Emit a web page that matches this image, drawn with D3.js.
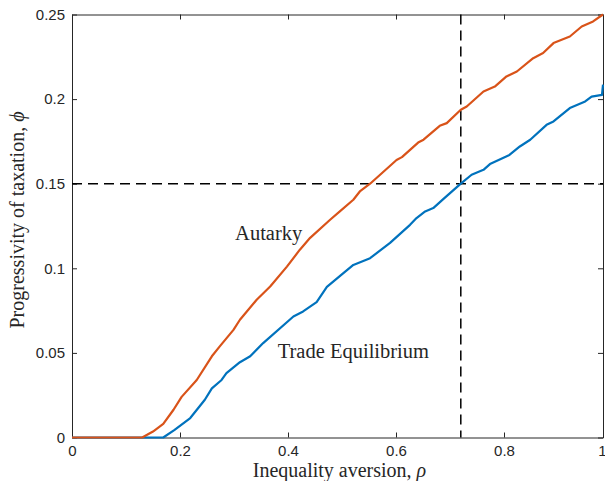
<!DOCTYPE html>
<html>
<head>
<meta charset="utf-8">
<script src="https://cdn.jsdelivr.net/npm/d3@7"></script>
<style>
  html, body { margin: 0; padding: 0; background: #fff; }
  svg { display: block; }
</style>
</head>
<body>
<svg id="chart" width="605" height="481"></svg>
<script>
// ---- data ----
const rhoAutarky = [0, 0.13, 0.15, 0.169, 0.188, 0.203, 0.231, 0.259, 0.274, 0.299, 0.311, 0.342, 0.367, 0.398, 0.422, 0.441, 0.478, 0.496, 0.521, 0.533, 0.552, 0.601, 0.611, 0.641, 0.651, 0.681, 0.694, 0.72, 0.731, 0.762, 0.783, 0.805, 0.826, 0.859, 0.879, 0.9, 0.933, 0.957, 0.98, 1.0];
const phiAutarky = [0, 0, 0.0035, 0.008, 0.0164, 0.024, 0.034, 0.048, 0.054, 0.0636, 0.0696, 0.0814, 0.0892, 0.101, 0.111, 0.118, 0.1287, 0.1336, 0.1405, 0.1454, 0.15, 0.164, 0.1657, 0.1743, 0.176, 0.1842, 0.1858, 0.1937, 0.1956, 0.2045, 0.2074, 0.2134, 0.2163, 0.2242, 0.2272, 0.2331, 0.237, 0.2429, 0.2459, 0.25];
const rhoTrade = [0, 0.169, 0.19, 0.219, 0.246, 0.259, 0.277, 0.286, 0.311, 0.33, 0.354, 0.41, 0.428, 0.453, 0.472, 0.502, 0.521, 0.552, 0.589, 0.626, 0.638, 0.654, 0.669, 0.688, 0.72, 0.74, 0.762, 0.774, 0.811, 0.832, 0.853, 0.886, 0.9, 0.933, 0.964, 0.977, 0.998, 1.0];
const phiTrade = [0, 0, 0.0045, 0.0115, 0.0223, 0.029, 0.034, 0.038, 0.0445, 0.048, 0.0558, 0.0715, 0.0745, 0.080, 0.089, 0.097, 0.102, 0.106, 0.115, 0.1257, 0.1297, 0.1336, 0.1356, 0.141, 0.15, 0.1553, 0.1582, 0.1616, 0.167, 0.172, 0.176, 0.1848, 0.1868, 0.1947, 0.1986, 0.2015, 0.2025, 0.2085];
const xTicks = [0, 0.2, 0.4, 0.6, 0.8, 1];
const yTicks = [0, 0.05, 0.1, 0.15, 0.2, 0.25];
const xTickLabels = ["0", "0.2", "0.4", "0.6", "0.8", "1"];
const yTickLabels = ["0", "0.05", "0.1", "0.15", "0.2", "0.25"];
const refRho = 0.72;
const refPhi = 0.15;
const annotations = [
  { text: "Autarky", rho: 0.302, phi: 0.1167 },
  { text: "Trade Equilibrium", rho: 0.381, phi: 0.047 }
];

// ---- scales ----
const svg = d3.select("#chart");
const x = d3.scaleLinear().domain([0, 0.8, 1]).range([72, 504, 603]);
const y = d3.scaleLinear().domain([0, 0.25]).range([437.5, 14.5]);
const axisColor = "#262626";
const tickFont = "'Liberation Sans', Arial, Helvetica, sans-serif";
const serif = "'Liberation Serif', 'Times New Roman', serif";

// ---- axes ----
function styleAxis(g) {
  g.select(".domain").attr("stroke", axisColor).attr("stroke-width", 1);
  g.selectAll(".tick line").attr("stroke", axisColor).attr("stroke-width", 1);
  g.selectAll(".tick text").attr("fill", axisColor).style("font-family", tickFont).style("font-size", "15px");
}
const bottomAxis = svg.append("g").attr("transform", `translate(0,${y(0)})`)
  .call(d3.axisBottom(x).tickValues(xTicks).tickFormat((d, i) => xTickLabels[i]).tickSizeInner(-5).tickSizeOuter(0).tickPadding(8))
  .call(styleAxis);
// keep the last label inside the picture
bottomAxis.selectAll(".tick text").filter(d => d === 1).attr("text-anchor", "end").attr("dx", "3");
svg.append("g").attr("transform", `translate(0,${y(0.25)})`)
  .call(d3.axisTop(x).tickValues(xTicks).tickFormat("").tickSizeInner(-5).tickSizeOuter(0))
  .call(styleAxis);
svg.append("g").attr("transform", `translate(${x(0)},0)`)
  .call(d3.axisLeft(y).tickValues(yTicks).tickFormat((d, i) => yTickLabels[i]).tickSizeInner(-5).tickSizeOuter(0).tickPadding(7))
  .call(styleAxis);
svg.append("g").attr("transform", `translate(${x(1)},0)`)
  .call(d3.axisRight(y).tickValues(yTicks).tickFormat("").tickSizeInner(-5).tickSizeOuter(0))
  .call(styleAxis);

// ---- reference dashed lines ----
svg.append("line")
  .attr("x1", x(0)).attr("x2", x(1)).attr("y1", y(refPhi)).attr("y2", y(refPhi))
  .attr("stroke", "#000").attr("stroke-width", 1.5).attr("stroke-dasharray", "10,6");
svg.append("line")
  .attr("x1", x(refRho)).attr("x2", x(refRho)).attr("y1", y(0.25)).attr("y2", y(0))
  .attr("stroke", "#000").attr("stroke-width", 1.5).attr("stroke-dasharray", "10,6");

// ---- series ----
const line = d3.line().x(d => x(d[0])).y(d => y(d[1]));
const series = [
  { rho: rhoTrade, phi: phiTrade, color: "#0072BD" },
  { rho: rhoAutarky, phi: phiAutarky, color: "#D95319" }
];
series.forEach(s => {
  svg.append("path")
    .datum(s.rho.map((r, i) => [r, s.phi[i]]))
    .attr("fill", "none")
    .attr("stroke", s.color)
    .attr("stroke-width", 2.2)
    .attr("stroke-linejoin", "round")
    .attr("d", line);
});

// ---- annotations ----
annotations.forEach(a => {
  svg.append("text")
    .attr("x", x(a.rho)).attr("y", y(a.phi))
    .attr("fill", axisColor)
    .style("font-family", serif).style("font-size", "20.5px")
    .text(a.text);
});

// ---- axis labels ----
const xl = svg.append("text")
  .attr("x", (x(0) + x(1)) / 2 + 2).attr("y", 477)
  .attr("text-anchor", "middle").attr("fill", axisColor)
  .style("font-family", serif).style("font-size", "20px");
xl.append("tspan").text("Inequality aversion, ");
xl.append("tspan").style("font-style", "italic").text("ρ");

const yl = svg.append("text")
  .attr("transform", `translate(24,${(y(0) + y(0.25)) / 2 - 6}) rotate(-90)`)
  .attr("text-anchor", "middle").attr("fill", axisColor)
  .style("font-family", serif).style("font-size", "20px");
yl.append("tspan").text("Progressivity of taxation, ");
yl.append("tspan").style("font-style", "italic").text("ϕ");
</script>
</body>
</html>
